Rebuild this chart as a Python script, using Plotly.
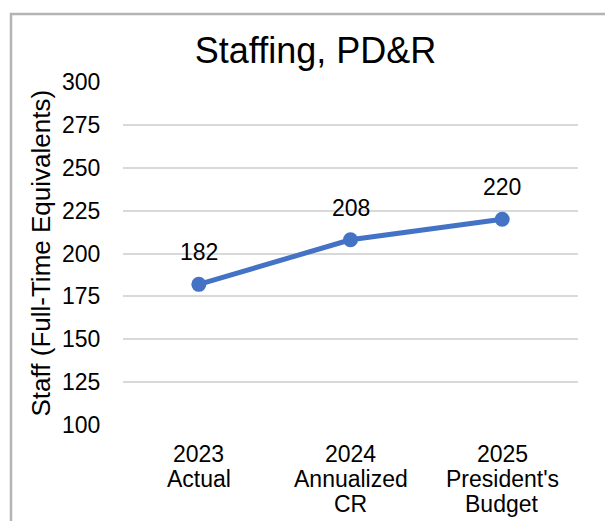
import plotly.graph_objects as go

categories = ["2023<br>Actual", "2024<br>Annualized<br>CR", "2025<br>President's<br>Budget"]
staff = [182, 208, 220]
y_ticks = [100, 125, 150, 175, 200, 225, 250, 275, 300]

FONT = "Liberation Sans, Arial, sans-serif"
BLACK = "#000000"
OFF = 8  # page body margin

fig = go.Figure()
fig.add_trace(go.Scatter(
    x=categories, y=staff, mode="lines+markers",
    line=dict(color="#4472C4", width=5),
    marker=dict(color="#4472C4", size=15),
    cliponaxis=False, showlegend=False,
))

W, H = 613 - OFF, 521 - OFF
L, R, T, B = 123 - OFF, 35, 82 - OFF, 96
pw, ph = W - L - R, H - T - B

annotations = []
for cat, v in zip(categories, staff):
    annotations.append(dict(
        x=cat, xref="x", y=v, yref="y", yanchor="bottom", xanchor="center",
        yshift=17, text=str(v), showarrow=False,
        font=dict(size=23, family=FONT, color=BLACK)))
    for i, line in enumerate(cat.split("<br>")):
        annotations.append(dict(
            x=cat, xref="x", y=0, yref="paper", yanchor="top", xanchor="center",
            yshift=-14 - 25 * i, text=line, showarrow=False,
            font=dict(size=23, family=FONT, color=BLACK)))

annotations.append(dict(
    x=(40 - OFF - L) / pw, xref="paper", y=0.5, yref="paper", xanchor="center", yanchor="middle",
    text="Staff (Full-Time Equivalents)", textangle=-90, showarrow=False,
    font=dict(size=26, family=FONT, color=BLACK)))

fig.update_layout(
    width=W, height=H,
    margin=dict(l=L, r=R, t=T, b=B),
    paper_bgcolor="white", plot_bgcolor="white",
    font=dict(family=FONT, color=BLACK),
    title=dict(text="Staffing, PD&R", x=(315.5 - OFF) / W, xanchor="center",
               y=1 - (63 - OFF) / H, yanchor="bottom", pad=dict(b=0),
               font=dict(size=36, family=FONT, color=BLACK)),
    xaxis=dict(range=[-0.5, 2.5], showgrid=False, showline=False, zeroline=False,
               showticklabels=False, automargin=False),
    yaxis=dict(range=[100, 300], tickvals=y_ticks, showgrid=True,
               gridcolor="#d9d9d9", gridwidth=1.5, zeroline=False, showline=False,
               tickfont=dict(size=23, family=FONT, color=BLACK),
               ticks="outside", ticklen=17, tickcolor="rgba(0,0,0,0)",
               automargin=False),
    annotations=annotations,
    shapes=[dict(type="rect", xref="paper", yref="paper",
                 x0=(11 - OFF - L) / pw, x1=2.0, y0=-2.0, y1=(H - B - (14 - OFF)) / ph,
                 line=dict(color="#b4b4b4", width=2.5), fillcolor="rgba(0,0,0,0)",
                 layer="below")],
)

fig.write_html("out.html")
